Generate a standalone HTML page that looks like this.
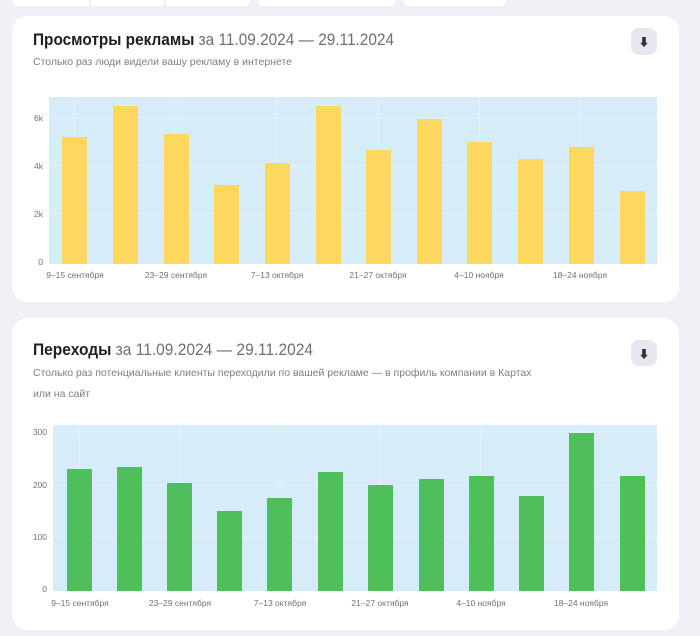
<!DOCTYPE html>
<html><head><meta charset="utf-8"><style>
html,body{margin:0;padding:0;width:700px;height:636px;overflow:hidden;background:#eff1f6;font-family:"Liberation Sans","Noto Sans CJK SC",sans-serif}
</style></head><body>
<svg width="700" height="636" xmlns="http://www.w3.org/2000/svg" font-family="Liberation Sans, Noto Sans CJK SC, sans-serif">
<rect x="0" y="0" width="700" height="636" fill="#eff1f6"/>
<rect x="13" y="-10" width="237" height="16" rx="4" fill="#fff"/>
<line x1="90" y1="0" x2="90" y2="6" stroke="#e3e5ea"/>
<line x1="165" y1="0" x2="165" y2="6" stroke="#e3e5ea"/>
<rect x="259" y="-10" width="136" height="16" rx="4" fill="#fff"/>
<rect x="404" y="-10" width="102" height="16" rx="4" fill="#fff"/>
<rect x="12" y="16" width="667" height="286" rx="16" fill="#fff"/>
<text x="33" y="45" font-size="17" font-weight="bold" fill="#21201f" textLength="361" lengthAdjust="spacingAndGlyphs">Просмотры рекламы <tspan font-weight="normal" fill="#6b6f7a">за 11.09.2024 — 29.11.2024</tspan></text>
<text x="33" y="65" font-size="10.5" fill="#7b7f88">Столько раз люди видели вашу рекламу в интернете</text>
<rect x="631" y="28" width="26" height="27" rx="8" fill="#e6e7ef"/>
<text x="644" y="46" font-size="11" text-anchor="middle" fill="#333">⬇</text>
<rect x="49" y="97" width="608" height="167" fill="#d6ecf8"/>
<g stroke="#e6f3fb" stroke-width="1">
<line x1="49" y1="118" x2="657" y2="118"/><line x1="49" y1="166" x2="657" y2="166"/><line x1="49" y1="214" x2="657" y2="214"/>
<line x1="74" y1="97" x2="74" y2="264"/><line x1="176" y1="97" x2="176" y2="264"/><line x1="277" y1="97" x2="277" y2="264"/><line x1="378" y1="97" x2="378" y2="264"/><line x1="479" y1="97" x2="479" y2="264"/><line x1="580" y1="97" x2="580" y2="264"/>
</g>
<g fill="#fdd75e">
<rect x="62" y="137" width="25" height="127"/><rect x="113" y="106" width="25" height="158"/><rect x="164" y="134" width="25" height="130"/><rect x="214" y="185" width="25" height="79"/><rect x="265" y="163" width="25" height="101"/><rect x="316" y="106" width="25" height="158"/><rect x="366" y="150" width="25" height="114"/><rect x="417" y="119" width="25" height="145"/><rect x="467" y="142" width="25" height="122"/><rect x="518" y="159" width="25" height="105"/><rect x="569" y="147" width="25" height="117"/><rect x="620" y="191" width="25" height="73"/>
</g>
<g font-size="8.5" fill="#6e727b" text-anchor="end">
<text x="43" y="121">6k</text><text x="43" y="169">4k</text><text x="43" y="217">2k</text><text x="43" y="265">0</text>
</g>
<g font-size="8.5" fill="#6e727b" text-anchor="middle">
<text x="75" y="278">9–15 сентября</text><text x="176" y="278">23–29 сентября</text><text x="277" y="278">7–13 октября</text><text x="378" y="278">21–27 октября</text><text x="479" y="278">4–10 ноября</text><text x="580" y="278">18–24 ноября</text>
</g>
<rect x="12" y="318" width="667" height="312" rx="16" fill="#fff"/>
<text x="33" y="355" font-size="17" font-weight="bold" fill="#21201f" textLength="280" lengthAdjust="spacingAndGlyphs">Переходы <tspan font-weight="normal" fill="#6b6f7a">за 11.09.2024 — 29.11.2024</tspan></text>
<text x="33" y="376" font-size="10.5" fill="#7b7f88">Столько раз потенциальные клиенты переходили по вашей рекламе — в профиль компании в Картах</text>
<text x="33" y="397" font-size="10.5" fill="#7b7f88">или на сайт</text>
<rect x="631" y="340" width="26" height="26" rx="8" fill="#e6e7ef"/>
<text x="644" y="358" font-size="11" text-anchor="middle" fill="#333">⬇</text>
<rect x="53" y="425" width="604" height="166" fill="#d6ecf8"/>
<g stroke="#e6f3fb" stroke-width="1">
<line x1="53" y1="432" x2="657" y2="432"/><line x1="53" y1="485" x2="657" y2="485"/><line x1="53" y1="537" x2="657" y2="537"/>
<line x1="79" y1="425" x2="79" y2="591"/><line x1="180" y1="425" x2="180" y2="591"/><line x1="280" y1="425" x2="280" y2="591"/><line x1="380" y1="425" x2="380" y2="591"/><line x1="481" y1="425" x2="481" y2="591"/><line x1="581" y1="425" x2="581" y2="591"/>
</g>
<g fill="#4fbf5a">
<rect x="67" y="469" width="25" height="122"/><rect x="117" y="467" width="25" height="124"/><rect x="167" y="483" width="25" height="108"/><rect x="217" y="511" width="25" height="80"/><rect x="267" y="498" width="25" height="93"/><rect x="318" y="472" width="25" height="119"/><rect x="368" y="485" width="25" height="106"/><rect x="419" y="479" width="25" height="112"/><rect x="469" y="476" width="25" height="115"/><rect x="519" y="496" width="25" height="95"/><rect x="569" y="433" width="25" height="158"/><rect x="620" y="476" width="25" height="115"/>
</g>
<g font-size="8.5" fill="#6e727b" text-anchor="end">
<text x="47" y="435">300</text><text x="47" y="488">200</text><text x="47" y="540">100</text><text x="47" y="592">0</text>
</g>
<g font-size="8.5" fill="#6e727b" text-anchor="middle">
<text x="80" y="606">9–15 сентября</text><text x="180" y="606">23–29 сентября</text><text x="280" y="606">7–13 октября</text><text x="380" y="606">21–27 октября</text><text x="481" y="606">4–10 ноября</text><text x="581" y="606">18–24 ноября</text>
</g>
</svg>
</body></html>
